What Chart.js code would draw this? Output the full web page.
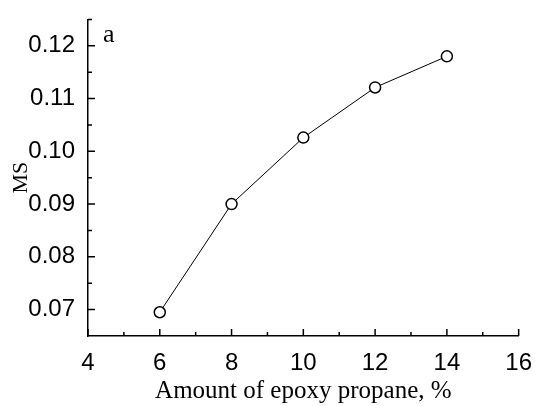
<!DOCTYPE html>
<html>
<head>
<meta charset="utf-8">
<script src="https://cdn.jsdelivr.net/npm/chart.js@4"></script>
<style>
  html, body { margin: 0; padding: 0; background: #fff; }
  #wrap { width: 537px; height: 406px; }
</style>
</head>
<body>
<div id="wrap"><canvas id="chart"></canvas></div>
<script>
// data
const epoxyPct = [6, 8, 10, 12, 14];
const msValues = [0.0695, 0.0900, 0.1026, 0.1121, 0.1180];

// axis ticks
const xMajor = [4, 6, 8, 10, 12, 14, 16];
const xMinor = [5, 7, 9, 11, 13, 15];
const yMajor = [0.07, 0.08, 0.09, 0.10, 0.11, 0.12];
const yMinor = [0.075, 0.085, 0.095, 0.105, 0.115, 0.125];

const panelLabel = 'a';
const xTitle = 'Amount of epoxy propane, %';
const yTitle = 'MS';

const sansFont = "'Liberation Sans Narrow', 'Liberation Sans', Arial, sans-serif";
const serifFont = "'Liberation Serif', 'Times New Roman', serif";

// ticks drawn inward from the axis lines, plus panel letter
const inwardTicks = {
  id: 'inwardTicks',
  afterDraw(chart) {
    const { ctx, chartArea } = chart;
    const xs = chart.scales.x;
    const ys = chart.scales.y;
    ctx.save();
    ctx.strokeStyle = '#000';
    ctx.lineWidth = 1.5;
    ctx.beginPath();
    const drawX = (vals, len) => vals.forEach(v => {
      const px = xs.getPixelForValue(v);
      ctx.moveTo(px, chartArea.bottom);
      ctx.lineTo(px, chartArea.bottom - len);
    });
    const drawY = (vals, len) => vals.forEach(v => {
      const py = ys.getPixelForValue(v);
      ctx.moveTo(chartArea.left, py);
      ctx.lineTo(chartArea.left + len, py);
    });
    drawX(xMajor, 7);
    drawX(xMinor, 4);
    drawY(yMajor, 7);
    drawY(yMinor, 4);
    ctx.stroke();

    ctx.fillStyle = '#000';
    ctx.font = `26px ${serifFont}`;
    ctx.textBaseline = 'alphabetic';
    ctx.textAlign = 'left';
    ctx.fillText(panelLabel, chartArea.left + 15, chartArea.top + 23);
    ctx.restore();
  }
};

new Chart(document.getElementById('chart'), {
  type: 'line',
  data: {
    datasets: [{
      data: epoxyPct.map((x, i) => ({ x, y: msValues[i] })),
      borderColor: '#000',
      borderWidth: 1,
      pointRadius: 5.5,
      pointBorderWidth: 1.5,
      pointBackgroundColor: '#fff',
      pointBorderColor: '#000',
      tension: 0,
      fill: false,
    }]
  },
  options: {
    responsive: true,
    maintainAspectRatio: false,
    animation: false,
    layout: { padding: { top: 15, right: 18, left: 0, bottom: 0 } },
    plugins: {
      legend: { display: false },
      tooltip: { enabled: false }
    },
    scales: {
      x: {
        type: 'linear',
        min: 4,
        max: 16,
        afterBuildTicks: (scale) => { scale.ticks = xMajor.map(value => ({ value })); },
        afterFit: (scale) => { scale.height = 70; },
        grid: { display: false },
        border: { display: true, color: '#000', width: 1.5 },
        ticks: {
          color: '#000',
          padding: 5,
          font: { family: sansFont, size: 24 },
          callback: (v) => String(v)
        },
        title: {
          display: true,
          text: xTitle,
          color: '#000',
          padding: { top: 0, bottom: 0 },
          font: { family: serifFont, size: 25 }
        }
      },
      y: {
        min: 0.065,
        max: 0.125,
        afterBuildTicks: (scale) => { scale.ticks = yMajor.map(value => ({ value })); },
        afterFit: (scale) => { scale.width = 88; },
        grid: { display: false },
        border: { display: true, color: '#000', width: 1.5 },
        ticks: {
          color: '#000',
          padding: 5,
          font: { family: sansFont, size: 24 },
          callback: (v) => v.toFixed(2)
        },
        title: {
          display: true,
          text: yTitle,
          color: '#000',
          padding: { top: 8, bottom: 0 },
          font: { family: serifFont, size: 22 }
        }
      }
    }
  },
  plugins: [inwardTicks]
});
</script>
</body>
</html>
